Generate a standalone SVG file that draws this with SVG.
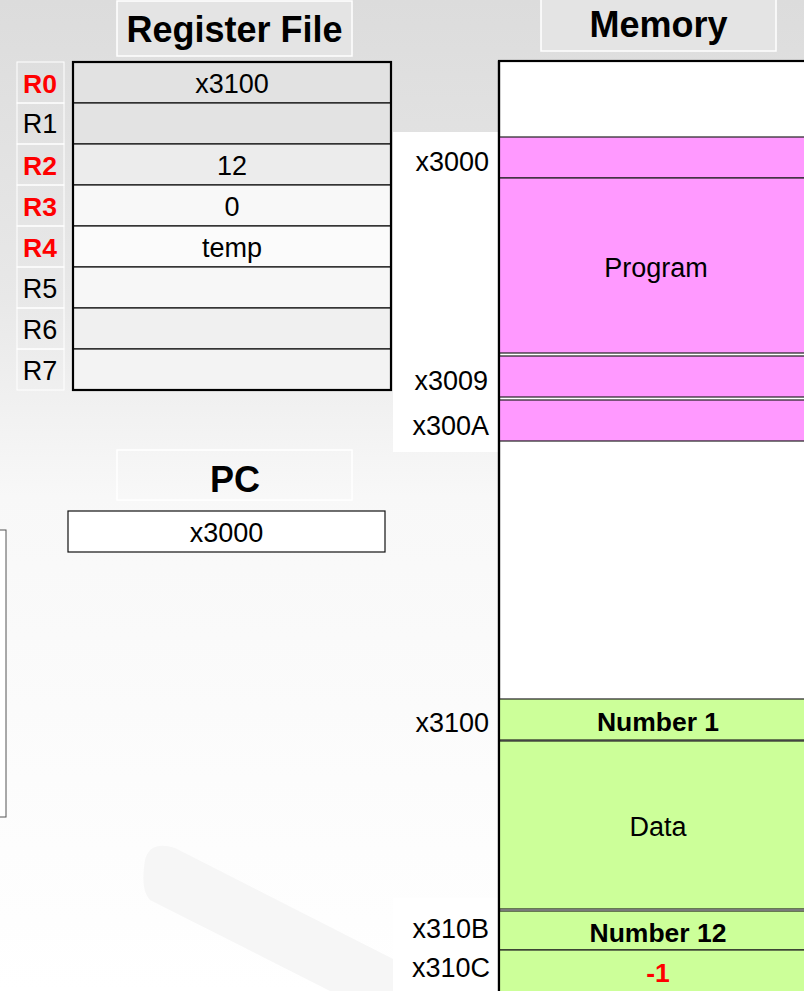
<svg xmlns="http://www.w3.org/2000/svg" width="804" height="991" viewBox="0 0 804 991">
<defs>
<linearGradient id="bg" x1="0" y1="0" x2="0" y2="1">
<stop offset="0" stop-color="#dcdcdc"/>
<stop offset="0.3" stop-color="#e8e8e8"/>
<stop offset="0.5" stop-color="#f8f8f8"/>
<stop offset="1" stop-color="#ffffff"/>
</linearGradient>
<style>
.t{font-family:"Liberation Sans",Arial,sans-serif;font-size:27px;fill:#000}
.b{font-weight:bold;font-size:26.5px}
.title{font-family:"Liberation Sans",Arial,sans-serif;font-size:36px;font-weight:bold;fill:#000}
.red{fill:#ff0000}
.reg{stroke:#111;stroke-width:1.2}
.lab{fill:none;stroke:#ffffff;stroke-width:1}
.hdr{fill:#e4e4e4;stroke:#ffffff;stroke-width:1.5}
.pink{fill:#ff99ff;stroke:#222;stroke-width:1.2}
.green{fill:#ccff99;stroke:#222;stroke-width:1.2}
</style>
</defs>
<rect x="0" y="0" width="804" height="991" fill="url(#bg)"/>
<path d="M145 860 Q150 840 175 848 L395 960 L395 991 L330 991 L150 900 Q140 890 145 860 Z" fill="#f6f6f6"/>
<rect x="393" y="132" width="105" height="320" fill="#ffffff"/>
<rect x="393" y="898" width="105" height="93" fill="#ffffff"/>

<g id="register-file-title">
<rect class="hdr" x="117" y="1" width="235" height="55"/>
<text class="title" x="234.5" y="42" text-anchor="middle">Register File</text>
</g>

<g id="register-file">
<rect class="reg" x="73" y="62" width="318" height="41" fill="#e2e2e2"/>
<rect class="reg" x="73" y="103" width="318" height="41" fill="#e3e3e3"/>
<rect class="reg" x="73" y="144" width="318" height="41" fill="#ececec"/>
<rect class="reg" x="73" y="185" width="318" height="41" fill="#f8f8f8"/>
<rect class="reg" x="73" y="226" width="318" height="41" fill="#fbfbfb"/>
<rect class="reg" x="73" y="267" width="318" height="41" fill="#f7f7f7"/>
<rect class="reg" x="73" y="308" width="318" height="41" fill="#f0f0f0"/>
<rect class="reg" x="73" y="349" width="318" height="41" fill="#f3f3f3"/>
<rect x="73" y="62" width="318" height="328" fill="none" stroke="#000" stroke-width="2.2"/>
<text class="t" x="232" y="93" text-anchor="middle">x3100</text>
<text class="t" x="232" y="175" text-anchor="middle">12</text>
<text class="t" x="232" y="216" text-anchor="middle">0</text>
<text class="t" x="232" y="257" text-anchor="middle">temp</text>
</g>

<g id="register-labels">
<rect class="lab" x="17" y="62" width="47" height="41"/>
<rect class="lab" x="17" y="103" width="47" height="41"/>
<rect class="lab" x="17" y="144" width="47" height="41"/>
<rect class="lab" x="17" y="185" width="47" height="41"/>
<rect class="lab" x="17" y="226" width="47" height="41"/>
<rect class="lab" x="17" y="267" width="47" height="41"/>
<rect class="lab" x="17" y="308" width="47" height="41"/>
<rect class="lab" x="17" y="349" width="47" height="41"/>
<text class="t b red" x="40" y="93" text-anchor="middle">R0</text>
<text class="t" x="40" y="133" text-anchor="middle">R1</text>
<text class="t b red" x="40" y="175" text-anchor="middle">R2</text>
<text class="t b red" x="40" y="216" text-anchor="middle">R3</text>
<text class="t b red" x="40" y="257" text-anchor="middle">R4</text>
<text class="t" x="40" y="298" text-anchor="middle">R5</text>
<text class="t" x="40" y="339" text-anchor="middle">R6</text>
<text class="t" x="40" y="380" text-anchor="middle">R7</text>
</g>

<g id="pc-title">
<rect x="117" y="450" width="235" height="50" fill="none" stroke="#ffffff" stroke-width="1.5"/>
<text class="title" x="235" y="492" text-anchor="middle">PC</text>
</g>

<g id="pc">
<rect x="68" y="511" width="317" height="41" fill="#ffffff" stroke="#111" stroke-width="1.2"/>
<text class="t" x="226.5" y="542" text-anchor="middle">x3000</text>
</g>

<g id="side-box">
<rect x="-10" y="530" width="16" height="287" fill="#ffffff" stroke="#555" stroke-width="1"/>
</g>

<g id="memory-title">
<rect class="hdr" x="541" y="-2" width="235" height="53"/>
<text class="title" x="658.5" y="37" text-anchor="middle">Memory</text>
</g>

<g id="memory">
<rect x="499" y="61" width="320" height="940" fill="#ffffff" stroke="#000" stroke-width="2.2"/>
<rect class="pink" x="499" y="137" width="320" height="41"/>
<rect class="pink" x="499" y="178" width="320" height="175"/>
<rect class="pink" x="499" y="356" width="320" height="41"/>
<rect class="pink" x="499" y="400" width="320" height="41"/>
<rect class="green" x="499" y="699" width="320" height="41"/>
<rect class="green" x="499" y="741" width="320" height="168"/>
<rect class="green" x="499" y="911" width="320" height="39"/>
<rect class="green" x="499" y="950" width="320" height="50"/>
<line x1="499" y1="61" x2="499" y2="991" stroke="#000" stroke-width="2.2"/>
<text class="t" x="656" y="277" text-anchor="middle">Program</text>
<text class="t b" x="658" y="731" text-anchor="middle">Number 1</text>
<text class="t" x="658" y="836" text-anchor="middle">Data</text>
<text class="t b" x="658" y="942" text-anchor="middle">Number 12</text>
<text class="t b red" x="658" y="982" text-anchor="middle">-1</text>
</g>

<g id="addresses">
<text class="t" x="489" y="171" text-anchor="end">x3000</text>
<text class="t" x="488" y="390" text-anchor="end">x3009</text>
<text class="t" x="489" y="435" text-anchor="end">x300A</text>
<text class="t" x="489" y="732" text-anchor="end">x3100</text>
<text class="t" x="489" y="938" text-anchor="end">x310B</text>
<text class="t" x="490" y="977" text-anchor="end">x310C</text>
</g>

<g id="connectors"/>
</svg>
